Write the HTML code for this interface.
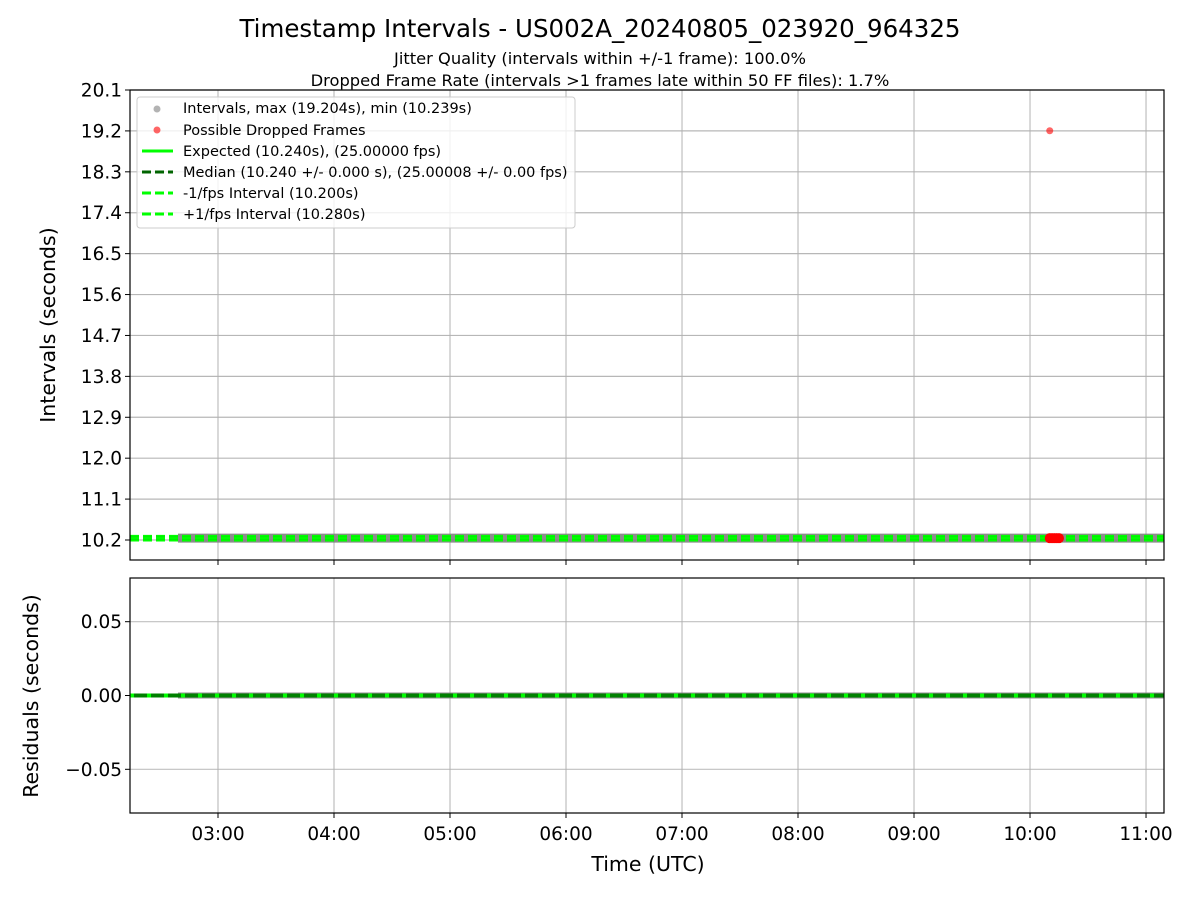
<!DOCTYPE html>
<html><head><meta charset="utf-8"><style>
body{margin:0;background:#fff;}
svg{display:block;font-family:"DejaVu Sans","Liberation Sans",sans-serif;}
</style></head><body>
<svg id="chart" width="1200" height="900" xmlns="http://www.w3.org/2000/svg">
<rect width="1200" height="900" fill="#fff"/>
<text x="600" y="37" font-size="24.5" text-anchor="middle">Timestamp Intervals - US002A_20240805_023920_964325</text>
<text x="600" y="64" font-size="16.3" text-anchor="middle">Jitter Quality (intervals within +/-1 frame): 100.0%</text>
<text x="600" y="86" font-size="16.3" text-anchor="middle">Dropped Frame Rate (intervals &gt;1 frames late within 50 FF files): 1.7%</text>
<g id="topg"></g>
<g id="botg"></g>
<text x="648" y="871" font-size="20.5" text-anchor="middle">Time (UTC)</text>
<text transform="translate(55,325) rotate(-90)" font-size="20.5" text-anchor="middle">Intervals (seconds)</text>
<text transform="translate(38,696) rotate(-90)" font-size="20.5" text-anchor="middle">Residuals (seconds)</text>
<g>
<rect x="137" y="97" width="438" height="131" rx="3" fill="#fff" fill-opacity="0.8" stroke="#ccc"/>
<circle cx="157" cy="109" r="3.5" fill="#808080" opacity="0.6"/>
<circle cx="157" cy="130" r="3.5" fill="#f00" opacity="0.6"/>
<line x1="142" y1="151" x2="173" y2="151" stroke="#0f0" stroke-width="3"/>
<line x1="142" y1="172" x2="173" y2="172" stroke="#006400" stroke-width="3" stroke-dasharray="9,4"/>
<line x1="142" y1="193" x2="173" y2="193" stroke="#0f0" stroke-width="3" stroke-dasharray="9,4"/>
<line x1="142" y1="214" x2="173" y2="214" stroke="#0f0" stroke-width="3" stroke-dasharray="9,4"/>
<g font-size="14.5">
<text x="183" y="113">Intervals, max (19.204s), min (10.239s)</text>
<text x="183" y="135">Possible Dropped Frames</text>
<text x="183" y="156">Expected (10.240s), (25.00000 fps)</text>
<text x="183" y="177">Median (10.240 +/- 0.000 s), (25.00008 +/- 0.00 fps)</text>
<text x="183" y="198">-1/fps Interval (10.200s)</text>
<text x="183" y="219">+1/fps Interval (10.280s)</text>
</g></g>
</svg>
<script>
// data
const xTickLabels=["03:00","04:00","05:00","06:00","07:00","08:00","09:00","10:00","11:00"];
const xTickHours=[3,4,5,6,7,8,9,10,11];
const yTicks=[10.2,11.1,12.0,12.9,13.8,14.7,15.6,16.5,17.4,18.3,19.2,20.1];
const rTicks=[0.05,0.00,-0.05];
const rTickLabels=["0.05","0.00","\u22120.05"];
const intervalStart=2.655, intervalValue=10.24;
const droppedTimes=[10.17,10.19,10.21,10.23,10.25];
const droppedValues=[10.24,10.24,10.24,10.24,10.24];
const dropHighTime=[10.17]; const dropHighValue=[19.204];
const expected=10.24, median=10.24, minus=10.20, plus=10.28;

const X0=130,X1=1164,xmin=2.2414,xmax=11.155;
const sx=h=>X0+(h-xmin)/(xmax-xmin)*(X1-X0);
const T0=90,T1=560,ymin=9.76,ymax=20.1;
const sy=v=>T1-(v-ymin)/(ymax-ymin)*(T1-T0);
const B0=578,B1=813,rmin=-0.0796,rmax=0.0796;
const sr=v=>B1-(v-rmin)/(rmax-rmin)*(B1-B0);
const NS="http://www.w3.org/2000/svg";
function mk(p,t,a){const e=document.createElementNS(NS,t);for(const k in a)e.setAttribute(k,a[k]);p.appendChild(e);return e;}
const topG=document.getElementById('topg'),botG=document.getElementById('botg');

xTickHours.forEach((h,i)=>{
 const g1=mk(topG,'line',{x1:sx(h),x2:sx(h),y1:T0,y2:T1,stroke:'#b0b0b0','stroke-width':1.2,opacity:0.8});
 
 
 const g2=mk(botG,'line',{x1:sx(h),x2:sx(h),y1:B0,y2:B1,stroke:'#b0b0b0','stroke-width':1.2,opacity:0.8});
 
 
 mk(topG,'line',{x1:sx(h),x2:sx(h),y1:T1,y2:T1+5,stroke:'#000'});
 mk(botG,'line',{x1:sx(h),x2:sx(h),y1:B1,y2:B1+5,stroke:'#000'});
 const t=mk(botG,'text',{x:sx(h),y:B1+27,'font-size':18.5,'text-anchor':'middle'});t.textContent=xTickLabels[i];
 
 
});
yTicks.forEach(v=>{
 mk(topG,'line',{x1:X0,x2:X1,y1:sy(v),y2:sy(v),stroke:'#b0b0b0','stroke-width':1.2,opacity:0.9});
 mk(topG,'line',{x1:X0-5,x2:X0,y1:sy(v),y2:sy(v),stroke:'#000'});
 const t=mk(topG,'text',{x:X0-8,y:sy(v)+6.5,'font-size':18.5,'text-anchor':'end'});t.textContent=v.toFixed(1);
 
 
});
rTicks.forEach((v,i)=>{
 mk(botG,'line',{x1:X0,x2:X1,y1:sr(v),y2:sr(v),stroke:'#b0b0b0','stroke-width':1.2,opacity:0.8});
 mk(botG,'line',{x1:X0-5,x2:X0,y1:sr(v),y2:sr(v),stroke:'#000'});
 const t=mk(botG,'text',{x:X0-8,y:sr(v)+6.5,'font-size':18.5,'text-anchor':'end'});t.textContent=rTickLabels[i];
 
 
});
const iv=mk(topG,'line',{x1:sx(intervalStart),x2:sx(xmax),y1:sy(intervalValue),y2:sy(intervalValue),stroke:'#808080','stroke-width':9,opacity:0.9});


const ir=mk(botG,'line',{x1:sx(intervalStart),x2:sx(xmax),y1:sr(0),y2:sr(0),stroke:'#808080','stroke-width':6,opacity:0.9});


[[minus,'#0f0'],[plus,'#0f0'],[median,'#006400'],[expected,'#0f0']].forEach(([v,c])=>{
 const l=mk(topG,'line',{x1:X0,x2:X1,y1:sy(v),y2:sy(v),stroke:c,'stroke-width':3,'stroke-dasharray':'9,4'});
 
 
});
const rl=mk(botG,'line',{x1:X0,x2:X1,y1:sr(0),y2:sr(0),stroke:'#008000','stroke-width':4});


mk(botG,'line',{x1:X0,x2:X1,y1:sr(0),y2:sr(0),stroke:'#0f0','stroke-width':4,'stroke-dasharray':'4,13'});
droppedTimes.forEach((t,i)=>{
 const c=mk(topG,'circle',{cx:sx(t),cy:sy(droppedValues[i]),r:5,fill:'#f00'});
 
 
});
dropHighTime.forEach((t,i)=>{
 const c=mk(topG,'circle',{cx:sx(t),cy:sy(dropHighValue[i]),r:3.5,fill:'#f00',opacity:0.6});
 
 
});
mk(topG,'rect',{x:X0,y:T0,width:X1-X0,height:T1-T0,fill:'none',stroke:'#000','stroke-width':1.2});
mk(botG,'rect',{x:X0,y:B0,width:X1-X0,height:B1-B0,fill:'none',stroke:'#000','stroke-width':1.2});
</script>
</body></html>
